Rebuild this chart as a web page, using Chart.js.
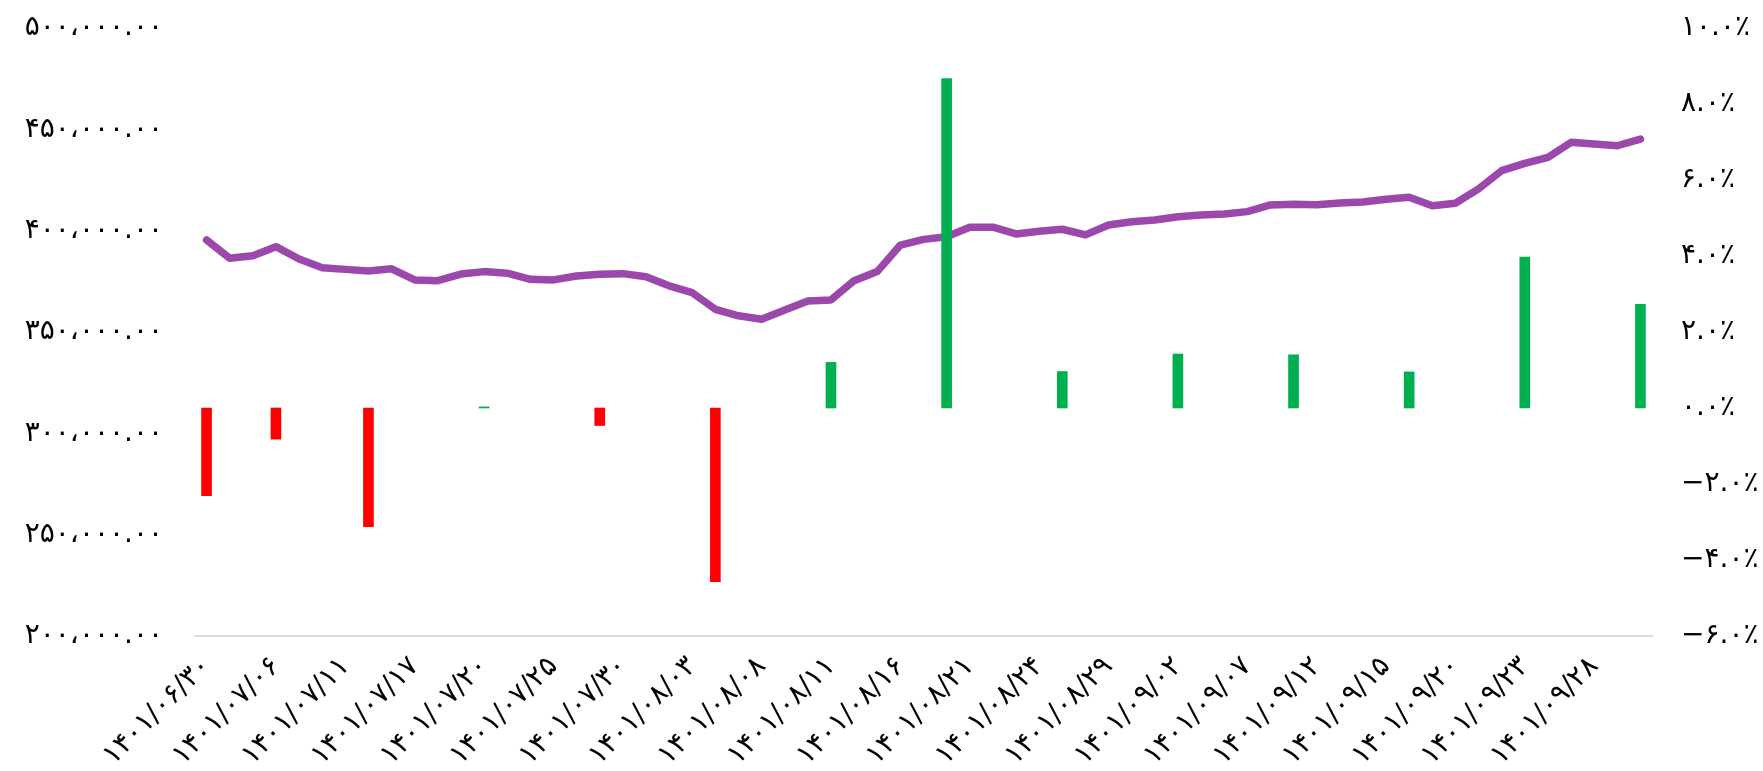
<!DOCTYPE html>
<html lang="fa">
<head>
<meta charset="utf-8">
<script src="https://cdn.jsdelivr.net/npm/chart.js@4.4.1/dist/chart.umd.min.js"></script>
<style>
  html, body { margin: 0; padding: 0; background: #fff; }
  #wrap { width: 1763px; height: 771px; }
</style>
</head>
<body>
<div id="wrap"><canvas id="Chart"></canvas></div>
<script>
const dates = [
  '۱۴۰۱/۰۶/۳۰', '۱۴۰۱/۰۷/۰۲', '۱۴۰۱/۰۷/۰۴', '۱۴۰۱/۰۷/۰۶', '۱۴۰۱/۰۷/۰۹', '۱۴۰۱/۰۷/۱۰', '۱۴۰۱/۰۷/۱۱',
  '۱۴۰۱/۰۷/۱۳', '۱۴۰۱/۰۷/۱۶', '۱۴۰۱/۰۷/۱۷', '۱۴۰۱/۰۷/۱۸', '۱۴۰۱/۰۷/۱۹', '۱۴۰۱/۰۷/۲۰', '۱۴۰۱/۰۷/۲۳',
  '۱۴۰۱/۰۷/۲۴', '۱۴۰۱/۰۷/۲۵', '۱۴۰۱/۰۷/۲۶', '۱۴۰۱/۰۷/۲۷', '۱۴۰۱/۰۷/۳۰', '۱۴۰۱/۰۸/۰۱', '۱۴۰۱/۰۸/۰۲',
  '۱۴۰۱/۰۸/۰۳', '۱۴۰۱/۰۸/۰۴', '۱۴۰۱/۰۸/۰۷', '۱۴۰۱/۰۸/۰۸', '۱۴۰۱/۰۸/۰۹', '۱۴۰۱/۰۸/۱۰', '۱۴۰۱/۰۸/۱۱',
  '۱۴۰۱/۰۸/۱۴', '۱۴۰۱/۰۸/۱۵', '۱۴۰۱/۰۸/۱۶', '۱۴۰۱/۰۸/۱۷', '۱۴۰۱/۰۸/۱۸', '۱۴۰۱/۰۸/۲۱', '۱۴۰۱/۰۸/۲۲',
  '۱۴۰۱/۰۸/۲۳', '۱۴۰۱/۰۸/۲۴', '۱۴۰۱/۰۸/۲۵', '۱۴۰۱/۰۸/۲۸', '۱۴۰۱/۰۸/۲۹', '۱۴۰۱/۰۸/۳۰', '۱۴۰۱/۰۹/۰۱',
  '۱۴۰۱/۰۹/۰۲', '۱۴۰۱/۰۹/۰۵', '۱۴۰۱/۰۹/۰۶', '۱۴۰۱/۰۹/۰۷', '۱۴۰۱/۰۹/۰۸', '۱۴۰۱/۰۹/۰۹', '۱۴۰۱/۰۹/۱۲',
  '۱۴۰۱/۰۹/۱۳', '۱۴۰۱/۰۹/۱۴', '۱۴۰۱/۰۹/۱۵', '۱۴۰۱/۰۹/۱۶', '۱۴۰۱/۰۹/۱۹', '۱۴۰۱/۰۹/۲۰', '۱۴۰۱/۰۹/۲۱',
  '۱۴۰۱/۰۹/۲۲', '۱۴۰۱/۰۹/۲۳', '۱۴۰۱/۰۹/۲۶', '۱۴۰۱/۰۹/۲۷', '۱۴۰۱/۰۹/۲۸', '۱۴۰۱/۰۹/۲۹', '۱۴۰۱/۰۹/۳۰'
];

// price per unit
const prices = [
  395400, 386400, 387600, 392100, 386000, 381700, 380900,
  380100, 381200, 375700, 375300, 378600, 379800, 379000,
  376000, 375700, 377600, 378500, 378800, 377300, 372800,
  369400, 361200, 358000, 356300, 360900, 365300, 365800,
  375300, 379800, 392900, 395700, 397000, 401700, 401700,
  398400, 399700, 400700, 397900, 402800, 404400, 405300,
  406900, 407700, 408200, 409400, 412700, 413000, 412800,
  413700, 414100, 415500, 416500, 412300, 413500, 420600,
  429600, 433200, 436200, 443600, 442800, 441900, 445200
];

// weekly change (%), only on wednesdays
const weeklyChange = [
  -2.31, null, null, -0.82, null, null, null,
  -3.12, null, null, null, null, 0.03, null,
  null, null, null, -0.46, null, null, null,
  null, -4.57, null, null, null, null, 1.20,
  null, null, null, null, 8.67, null, null,
  null, null, 0.96, null, null, null, null,
  1.42, null, null, null, null, 1.40, null,
  null, null, null, 0.95, null, null, null,
  null, 3.97, null, null, null, null, 2.73
];

const priceTicks = [200000, 250000, 300000, 350000, 400000, 450000, 500000];
const priceTickLabels = ['۲۰۰،۰۰۰.۰۰', '۲۵۰،۰۰۰.۰۰', '۳۰۰،۰۰۰.۰۰', '۳۵۰،۰۰۰.۰۰', '۴۰۰،۰۰۰.۰۰', '۴۵۰،۰۰۰.۰۰', '۵۰۰،۰۰۰.۰۰'];
const percentTicks = [-6, -4, -2, 0, 2, 4, 6, 8, 10];
const percentTickLabels = ['−۶.۰٪', '−۴.۰٪', '−۲.۰٪', '۰.۰٪', '۲.۰٪', '۴.۰٪', '۶.۰٪', '۸.۰٪', '۱۰.۰٪'];

const tickFont = { family: "'DejaVu Sans', sans-serif", size: 28 };
const ctx = document.getElementById('Chart');

// vertical axes should not push the plot area down
const noPad = s => { s.paddingTop = 0; s.paddingBottom = 0; };

new Chart(ctx, {
  type: 'bar',
  data: {
    labels: dates,
    datasets: [{
      type: 'bar',
      label: 'weekly',
      data: weeklyChange,
      yAxisID: 'pct',
      backgroundColor: c => (c.raw < 0 ? '#ff0000' : '#00b050'),
      barThickness: 10,
      order: 1
    }, {
      type: 'line',
      label: 'price',
      data: prices,
      yAxisID: 'price',
      borderColor: '#9b48ac',
      borderWidth: 7.5,
      borderCapStyle: 'round',
      borderJoinStyle: 'round',
      pointRadius: 0,
      tension: 0,
      order: 2
    }]
  },
  options: {
    responsive: true,
    maintainAspectRatio: false,
    animation: false,
    layout: { padding: { top: 28, left: 0, right: 0, bottom: 0 } },
    plugins: { legend: { display: false }, tooltip: { enabled: false } },
    scales: {
      x: {
        grid: { display: false },
        border: { color: '#dcdcdc', width: 2 },
        afterFit: s => { s.height = 135; },
        ticks: {
          autoSkip: false,
          minRotation: 45,
          maxRotation: 45,
          padding: 6,
          color: '#000',
          font: tickFont,
          callback: (v, i) => (i % 3 === 0 ? dates[i] : '')
        }
      },
      price: {
        position: 'left',
        min: 200000,
        max: 500000,
        afterBuildTicks: s => { s.ticks = priceTicks.map(v => ({ value: v })); },
        afterFit: s => { s.width = 195; noPad(s); },
        grid: { display: false },
        border: { display: false },
        ticks: {
          padding: 24,
          color: '#000',
          font: tickFont,
          callback: v => priceTickLabels[priceTicks.indexOf(v)]
        }
      },
      pct: {
        position: 'right',
        min: -6,
        max: 10,
        afterBuildTicks: s => { s.ticks = percentTicks.map(v => ({ value: v })); },
        afterFit: s => { s.width = 111; noPad(s); },
        grid: { display: false },
        border: { display: false },
        ticks: {
          padding: 21,
          color: '#000',
          font: tickFont,
          callback: v => percentTickLabels[percentTicks.indexOf(v)]
        }
      }
    }
  }
});
</script>
</body>
</html>
